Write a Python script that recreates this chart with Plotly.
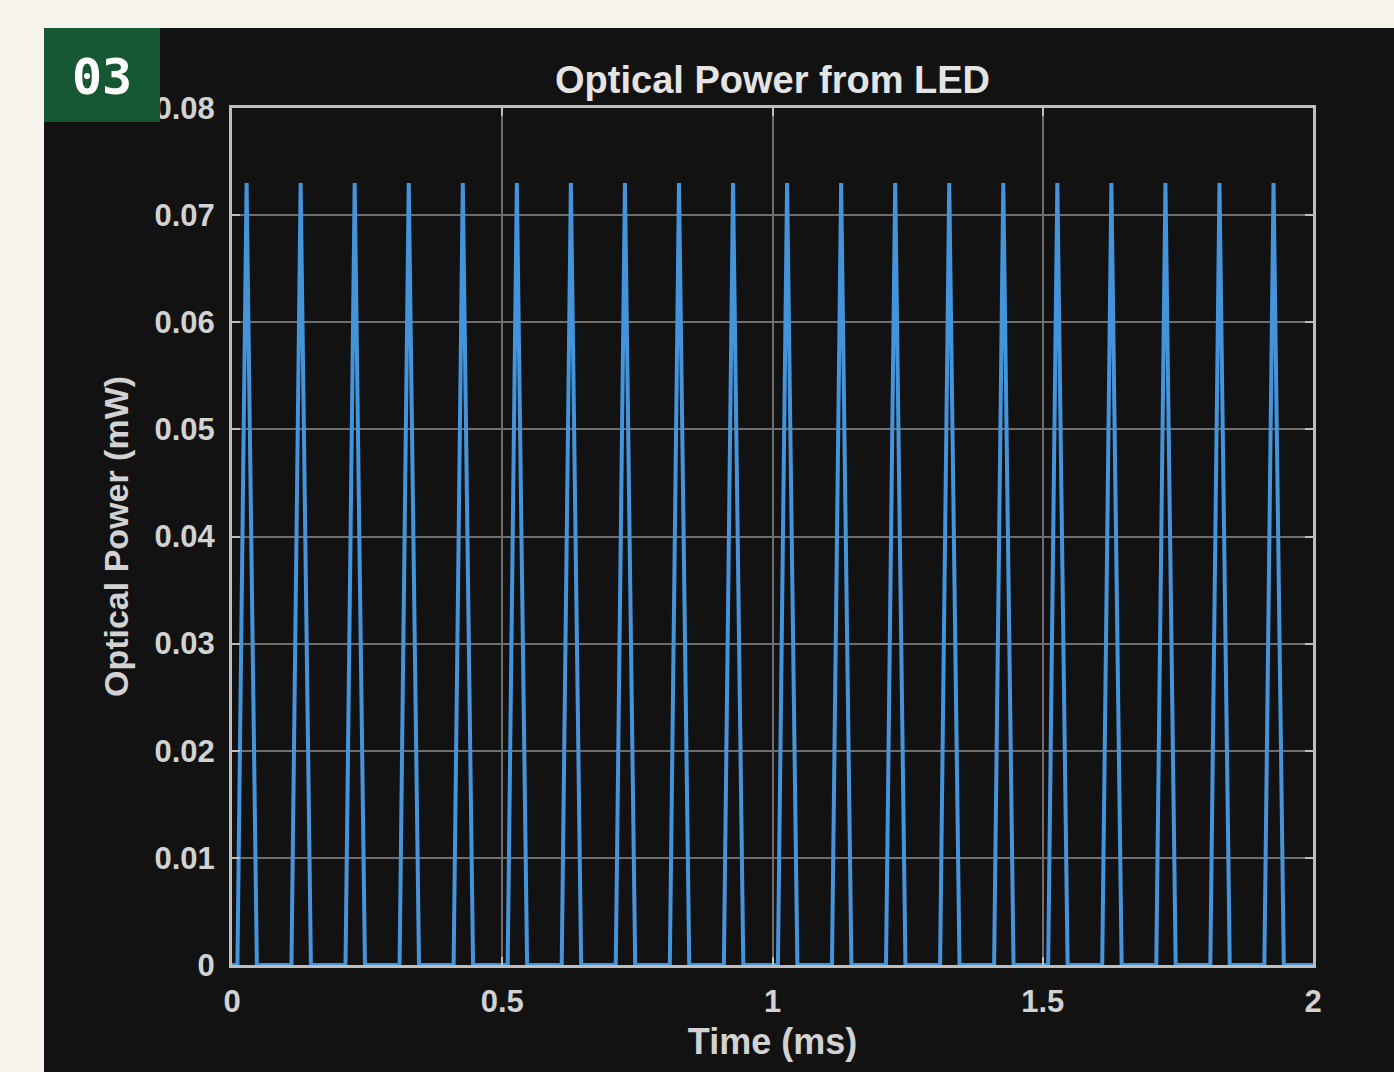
import plotly.graph_objects as go

# ---- data (time in ms, optical power in mW) ----
time_ms = [
    0.000,
    0.010, 0.027, 0.046,
    0.110, 0.127, 0.146,
    0.210, 0.227, 0.246,
    0.310, 0.327, 0.346,
    0.410, 0.427, 0.446,
    0.510, 0.527, 0.546,
    0.610, 0.627, 0.646,
    0.710, 0.727, 0.746,
    0.810, 0.827, 0.846,
    0.910, 0.927, 0.946,
    1.010, 1.027, 1.046,
    1.110, 1.127, 1.146,
    1.210, 1.227, 1.246,
    1.310, 1.327, 1.346,
    1.410, 1.427, 1.446,
    1.510, 1.527, 1.546,
    1.610, 1.627, 1.646,
    1.710, 1.727, 1.746,
    1.810, 1.827, 1.846,
    1.910, 1.927, 1.946,
    2.000,
]
power_mw = [
    0.0,
    0.0, 0.073, 0.0,
    0.0, 0.073, 0.0,
    0.0, 0.073, 0.0,
    0.0, 0.073, 0.0,
    0.0, 0.073, 0.0,
    0.0, 0.073, 0.0,
    0.0, 0.073, 0.0,
    0.0, 0.073, 0.0,
    0.0, 0.073, 0.0,
    0.0, 0.073, 0.0,
    0.0, 0.073, 0.0,
    0.0, 0.073, 0.0,
    0.0, 0.073, 0.0,
    0.0, 0.073, 0.0,
    0.0, 0.073, 0.0,
    0.0, 0.073, 0.0,
    0.0, 0.073, 0.0,
    0.0, 0.073, 0.0,
    0.0, 0.073, 0.0,
    0.0, 0.073, 0.0,
    0.0,
]
x_ticks = [0, 0.5, 1, 1.5, 2]
x_tick_labels = ["0", "0.5", "1", "1.5", "2"]
y_ticks = [0, 0.01, 0.02, 0.03, 0.04, 0.05, 0.06, 0.07, 0.08]
y_tick_labels = ["0", "0.01", "0.02", "0.03", "0.04", "0.05", "0.06", "0.07", "0.08"]

title_text = "Optical Power from LED"
x_title = "Time (ms)"
y_title = "Optical Power (mW)"
badge_text = "03"

# ---- layout geometry (pixels) ----
W, H = 1394, 1072
L, R, T, B = 232, 1313, 108, 965
pw, ph = R - L, B - T


def px(x):
    return (x - L) / pw


def py(y):
    return (B - y) / ph


CREAM = "#f6f3ec"
PANEL = "#121212"
TEXT = "#d2d2d2"
FONT = "Liberation Sans, Arial, sans-serif"

fig = go.Figure()
fig.add_trace(go.Scatter(
    x=time_ms, y=power_mw, mode="lines",
    line=dict(color="#4494dc", width=4),
    hoverinfo="skip", showlegend=False,
))

axis_common = dict(
    showgrid=True, gridcolor="#6e6e6e", gridwidth=2,
    showline=True, linecolor="#bdbdbd", linewidth=3, mirror="ticks",
    ticks="inside", ticklen=8, tickcolor="#bdbdbd", tickwidth=2,
    zeroline=False, tickfont=dict(family=FONT, size=31, color=TEXT, weight="bold"),
    automargin=False,
)

fig.update_layout(
    width=W, height=H,
    margin=dict(l=L, r=W - R, t=T, b=H - B, pad=0),
    paper_bgcolor=CREAM,
    plot_bgcolor=PANEL,
    title=dict(text=title_text, x=772.5 / W, xanchor="center",
               y=1 - 80 / H, yanchor="middle",
               font=dict(family=FONT, size=38, color="#e4e4e4", weight="bold")),
    xaxis=dict(range=[0, 2], tickvals=x_ticks, ticktext=x_tick_labels,
               ticklabelstandoff=7,
               title=dict(text=x_title, standoff=11,
                          font=dict(family=FONT, size=36, color=TEXT, weight="bold")),
               **axis_common),
    yaxis=dict(range=[0, 0.08], tickvals=y_ticks, ticktext=y_tick_labels,
               ticklabelstandoff=8,
               title=dict(text=y_title, standoff=16,
                          font=dict(family=FONT, size=34, color=TEXT, weight="bold")),
               **axis_common),
    shapes=[
        dict(type="rect", xref="paper", yref="paper", layer="below",
             x0=px(44), x1=px(W + 5), y0=py(H + 5), y1=py(28),
             fillcolor=PANEL, line=dict(width=0)),
        dict(type="rect", xref="paper", yref="paper", layer="above",
             x0=px(44), x1=px(160), y0=py(122), y1=py(28),
             fillcolor="#165834", line=dict(width=0)),
    ],
    annotations=[
        dict(text=badge_text, xref="paper", yref="paper",
             x=px(102), y=py(77), xanchor="center", yanchor="middle",
             showarrow=False,
             font=dict(family="DejaVu Sans Mono, monospace", size=50,
                       color="#ffffff", weight="bold")),
    ],
)

fig.write_html(
    "out.html",
    config={"displayModeBar": False},
    post_script=(
        "document.body.style.margin='0';"
        "document.body.style.padding='0';"
        "document.body.style.background='" + CREAM + "';"
        "document.documentElement.style.overflow='hidden';"
    ),
)
